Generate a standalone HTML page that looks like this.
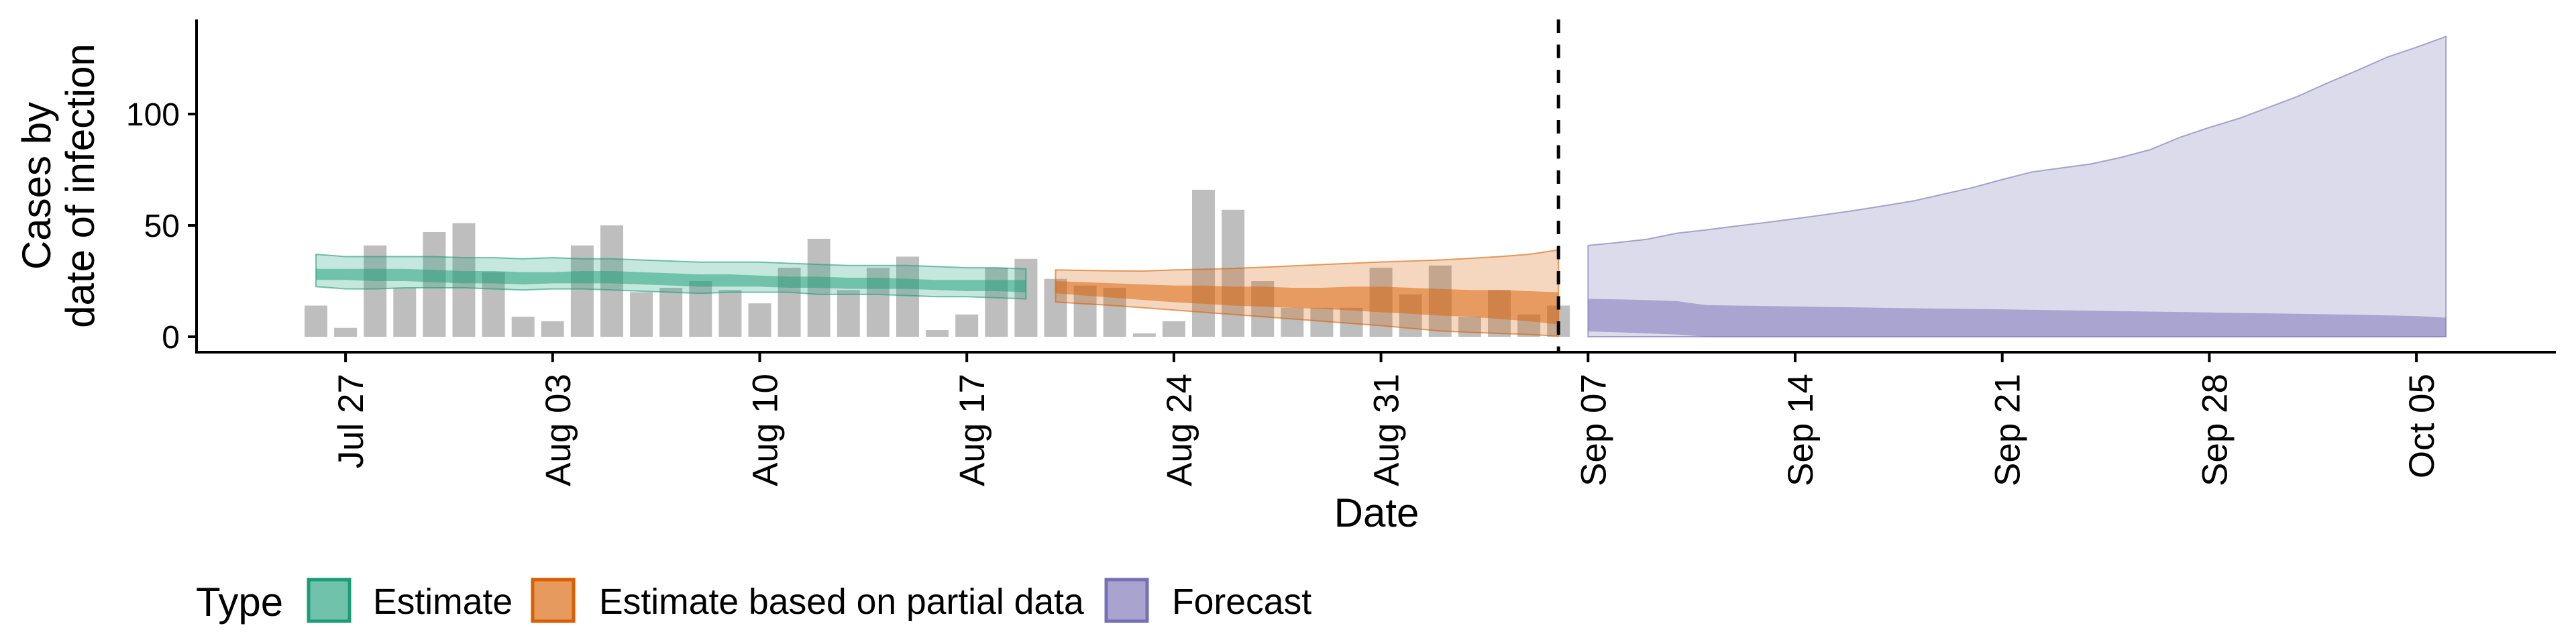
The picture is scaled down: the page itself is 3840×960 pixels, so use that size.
<!DOCTYPE html>
<html><head><meta charset="utf-8">
<style>
html,body{margin:0;padding:0;background:#fff;}
svg{display:block;font-family:"Liberation Sans",sans-serif;}
</style></head>
<body>
<svg id="chart" width="3840" height="960" viewBox="0 0 3840 960"></svg>
<script>
const startDate = "2020-07-26";
const barValues = [14,4,41,22,47,51,29,9,7,41,50,20,22,25,21,15,31,44,21,31,36,3,10,31,35,26,23,22,1.5,7,66,57,25,13,13,13,31,19,32,9,21,10,14];
const estStart = 0;
const estOuterUpper = [37,36,36,36,36,35.5,35.5,35,35.5,35,35,34.5,34,33.5,33.5,33.5,33,32.5,32,32,32,31.5,31,31,30.5];
const estOuterLower = [22.5,21.5,21.5,22,22,22,21.5,21,21.5,21.5,21,20.5,20,19.5,20,20,20,19,19,19,18.5,18,18,17.5,17];
const estInnerUpper = [30.5,30.5,30.5,30.5,30,29.5,29.5,29,29,29.5,29.5,29,28.5,28,28,27.5,27,27,26.5,26.5,26,25.5,25.5,25.5,25.5];
const estInnerLower = [25.5,25.5,25,25,24.5,24,24,23.5,24,24,24,23.5,23,22.5,22.5,22.5,22,22,21.5,21.5,21.5,21,20.5,20.5,20];
const partStart = 25;
const partOuterUpper = [30,29.8,29.6,29.5,30,30.3,30.7,31.2,31.8,32.4,33,33.6,34,34.5,35.2,36,37,39];
const partOuterLower = [15.6,14.8,14,13,12,11,10,9,8,7,6,5,3.8,2.6,2,1.5,1,0.3];
const partInnerUpper = [25,24.5,24,23.5,23,23,22.5,22.5,22,22,22.5,22.5,22,21.5,21,21,20.5,20];
const partInnerLower = [19.5,18.5,17.5,16.5,15.5,14.8,14,13.5,13,12.5,11.8,11,10.3,9.5,9,8,7,5.5];
const fcStart = 43;
const fcOuterUpper = [41,42.3,43.8,46.5,48,49.7,51.3,53,54.8,56.7,58.8,61,64,67,70.6,74,75.8,77.6,80.5,84,89.5,94,98,103,108,114,119.6,125.5,130,134.8];
const fcOuterLower = [0,0,0,0,0,0,0,0,0,0,0,0,0,0,0,0,0,0,0,0,0,0,0,0,0,0,0,0,0,0];
const fcInnerUpper = [17,16.8,16.5,16,14.2,14,13.8,13.6,13.4,13.2,13,12.8,12.6,12.5,12.3,12.1,11.9,11.7,11.5,11.3,11.1,10.9,10.7,10.5,10.3,10.1,9.9,9.6,9.3,8.6];
const fcInnerLower = [2.4,2,1.5,1,0,0,0,0,0,0,0,0,0,0,0,0,0,0,0,0,0,0,0,0,0,0,0,0,0,0];
const xTickLabels = ["Jul 27","Aug 03","Aug 10","Aug 17","Aug 24","Aug 31","Sep 07","Sep 14","Sep 21","Sep 28","Oct 05"];
const xTickDays = [1,8,15,22,29,36,43,50,57,64,71];
const yTicks = [0,50,100];
const forecastLineDay = 42;

const NS="http://www.w3.org/2000/svg";
const svg=document.getElementById('chart');
const X0=471, DX=44.1, Y0=502, DY=3.32;
const x=d=>X0+d*DX;
const y=v=>Y0-v*DY;
function mk(tag,attrs,parent){const e=document.createElementNS(NS,tag);for(const k in attrs)e.setAttribute(k,attrs[k]);(parent||svg).appendChild(e);return e;}

const bw=34;
barValues.forEach((v,i)=>{
  const r=mk('rect',{x:x(i)-bw/2,y:y(v),width:bw,height:Y0-y(v),fill:'#bebebe'});
  
  
});

function band(start,up,lo,fill,op,stroke,name){
  let pts=[];
  up.forEach((v,i)=>pts.push(x(start+i)+','+y(v)));
  for(let i=lo.length-1;i>=0;i--)pts.push(x(start+i)+','+y(lo[i]));
  const p=mk('polygon',{points:pts.join(' '),fill:fill,'fill-opacity':op,stroke:stroke||'none','stroke-width':stroke?2:0,'stroke-opacity':0.6});
  
  
}
band(estStart,estOuterUpper,estOuterLower,'#1b9e77',0.25,'#1b9e77','estimate-outer-band');
band(estStart,estInnerUpper,estInnerLower,'#1b9e77',0.5,null,'estimate-inner-band');
band(partStart,partOuterUpper,partOuterLower,'#d95f02',0.25,'#d95f02','partial-outer-band');
band(partStart,partInnerUpper,partInnerLower,'#d95f02',0.5,null,'partial-inner-band');
band(fcStart,fcOuterUpper,fcOuterLower,'#7570b3',0.25,'#7570b3','forecast-outer-band');
band(fcStart,fcInnerUpper,fcInnerLower,'#7570b3',0.5,null,'forecast-inner-band');

const dl=mk('line',{x1:x(forecastLineDay),x2:x(forecastLineDay),y1:29,y2:525,stroke:'#000','stroke-width':5,'stroke-dasharray':'20 17.5'});



const ya=mk('line',{x1:293,x2:293,y1:29,y2:527,stroke:'#000','stroke-width':4});


const xa=mk('line',{x1:291,x2:3810,y1:525,y2:525,stroke:'#000','stroke-width':4});



yTicks.forEach(v=>{
  const t=mk('line',{x1:280,x2:293,y1:y(v),y2:y(v),stroke:'#000','stroke-width':4});
  
  
  const l=mk('text',{x:268,y:y(v)+17,'text-anchor':'end','font-size':48,fill:'#000'});
  l.textContent=v;
  
  
});
xTickDays.forEach((d,i)=>{
  const t=mk('line',{x1:x(d),x2:x(d),y1:525,y2:540,stroke:'#000','stroke-width':4});
  
  
  const l=mk('text',{x:0,y:0,'text-anchor':'end','font-size':53,fill:'#000',transform:`translate(${x(d)+26},557) rotate(-90)`});
  l.textContent=xTickLabels[i];
  
  
});
</script>
<div style="position:absolute;left:0;top:0;width:3840px;height:960px;pointer-events:none;">
<svg width="3840" height="960" style="position:absolute;left:0;top:0;">
<g font-family="Liberation Sans, sans-serif" font-size="60" text-anchor="middle">
<text transform="translate(75,277) rotate(-90)">Cases by</text>
<text transform="translate(140,277) rotate(-90)">date of infection</text>
</g>
<text x="2052" y="785" font-family="Liberation Sans, sans-serif" font-size="60" text-anchor="middle">Date</text>
<g font-family="Liberation Sans, sans-serif" font-size="53.5">
<text x="292" y="918" font-size="60">Type</text>
<rect x="460" y="864" width="61" height="62" fill="#70c2aa" stroke="#1b9e77" stroke-width="5"/>
<text x="556" y="915">Estimate</text>
<rect x="794" y="864" width="61" height="62" fill="#e79a5e" stroke="#d95f02" stroke-width="5"/>
<text x="893" y="915">Estimate based on partial data</text>
<rect x="1649" y="864" width="61" height="62" fill="#a8a4cf" stroke="#7570b3" stroke-width="5"/>
<text x="1747" y="915">Forecast</text>
</g>
</svg>
</div>
</body></html>
